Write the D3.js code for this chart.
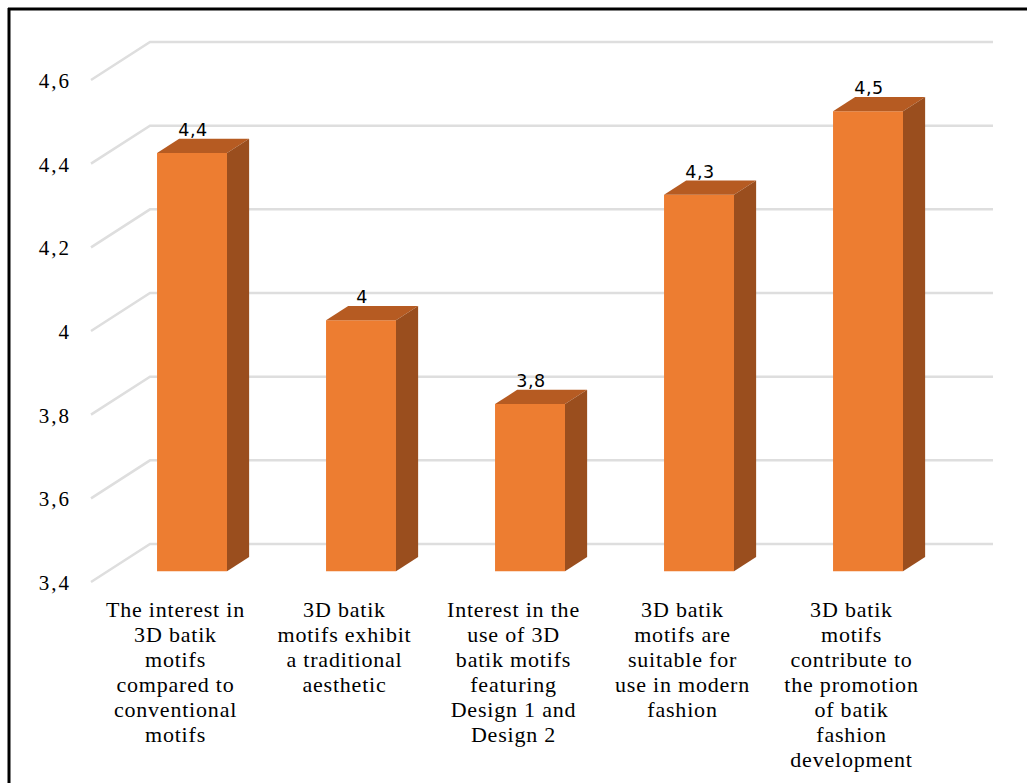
<!DOCTYPE html>
<html>
<head>
<meta charset="utf-8">
<script src="https://cdn.jsdelivr.net/npm/d3@7"></script>
<style>
  html, body { margin: 0; padding: 0; background: #fff; }
  svg { display: block; }
</style>
</head>
<body>
<svg id="chart" width="1027" height="783"></svg>
<script>
// ---- data ----
const categories = [
  ["The interest in", "3D batik", "motifs", "compared to", "conventional", "motifs"],
  ["3D batik", "motifs exhibit", "a traditional", "aesthetic"],
  ["Interest in the", "use of 3D", "batik motifs", "featuring", "Design 1 and", "Design 2"],
  ["3D batik", "motifs are", "suitable for", "use in modern", "fashion"],
  ["3D batik", "motifs", "contribute to", "the promotion", "of batik", "fashion", "development"]
];
const values = [4.4, 4.0, 3.8, 4.3, 4.5];
const valueLabels = ["4,4", "4", "3,8", "4,3", "4,5"];
const tickValues = [3.4, 3.6, 3.8, 4.0, 4.2, 4.4, 4.6];
const tickLabels = ["3,4", "3,6", "3,8", "4", "4,2", "4,4", "4,6"];

// ---- layout ----
const svg = d3.select("#chart");
const W = 1027, H = 783;
const depth = { dx: 59, dy: -38 };
const barZ0 = 0.28, barZ1 = 0.655;

const ids = categories.map((c, i) => "c" + i);
const x = d3.scaleBand().domain(ids).range([91, 936])
  .paddingInner(0.586).paddingOuter(0.293);
const y = d3.scaleLinear().domain([3.4, 4.6]).range([582, 80]);

function proj(px, v, z) {
  return [px + z * depth.dx, y(v) + z * depth.dy];
}

// border (top and left)
svg.append("line").attr("x1", 8).attr("y1", 9).attr("x2", W).attr("y2", 9)
  .attr("stroke", "#000").attr("stroke-width", 3);
svg.append("line").attr("x1", 9).attr("y1", 8).attr("x2", 9).attr("y2", H)
  .attr("stroke", "#000").attr("stroke-width", 3);

// gridlines
const grid = svg.append("g");
tickValues.forEach(t => {
  const a = proj(91, t, 0), b = proj(91, t, 1), c = [993, b[1]];
  grid.append("path")
    .attr("d", d3.line()([a, b, c]))
    .attr("fill", "none")
    .attr("stroke", "#dedede")
    .attr("stroke-width", 2.5);
});

// y tick labels
svg.append("g").selectAll("text").data(tickValues).join("text")
  .attr("x", 71)
  .attr("y", d => y(d) + 8)
  .attr("text-anchor", "end")
  .attr("font-family", "'Liberation Serif', 'Times New Roman', serif")
  .attr("font-size", 21)
  .attr("letter-spacing", "2px")
  .attr("fill", "#000")
  .text((d, i) => tickLabels[i]);

// bars
const bars = svg.append("g");
values.forEach((v, i) => {
  const x0 = x(ids[i]), x1 = x0 + x.bandwidth();
  const ftl = proj(x0, v, barZ0), ftr = proj(x1, v, barZ0);
  const fbl = proj(x0, 3.4, barZ0), fbr = proj(x1, 3.4, barZ0);
  const btl = proj(x0, v, barZ1), btr = proj(x1, v, barZ1);
  const bbr = proj(x1, 3.4, barZ1);
  const poly = pts => "M" + pts.map(p => p.join(",")).join("L") + "Z";
  bars.append("path").attr("d", poly([ftl, ftr, fbr, fbl])).attr("fill", "#ED7D31");
  bars.append("path").attr("d", poly([ftl, ftr, btr, btl])).attr("fill", "#B65B22");
  bars.append("path").attr("d", poly([ftr, btr, bbr, fbr])).attr("fill", "#9A4E1E");
  svg.append("text")
    .attr("x", (ftl[0] + ftr[0]) / 2 + 1)
    .attr("y", btl[1] - 3)
    .attr("text-anchor", "middle")
    .attr("font-family", "'DejaVu Sans', 'Liberation Sans', sans-serif")
    .attr("font-size", 17.5)
    .attr("letter-spacing", "0.5px")
    .attr("fill", "#000")
    .text(valueLabels[i]);
});

// category labels
const cat = svg.append("g")
  .attr("font-family", "'Liberation Serif', 'Times New Roman', serif")
  .attr("font-size", 22)
  .attr("letter-spacing", "0.8px")
  .attr("fill", "#000")
  .attr("text-anchor", "middle");
categories.forEach((lines, i) => {
  const cx = x(ids[i]) + x.bandwidth() / 2;
  const t = cat.append("text").attr("x", cx).attr("y", 617);
  lines.forEach((ln, j) => {
    t.append("tspan").attr("x", cx).attr("y", 617 + j * 25).text(ln);
  });
});
</script>
</body>
</html>
